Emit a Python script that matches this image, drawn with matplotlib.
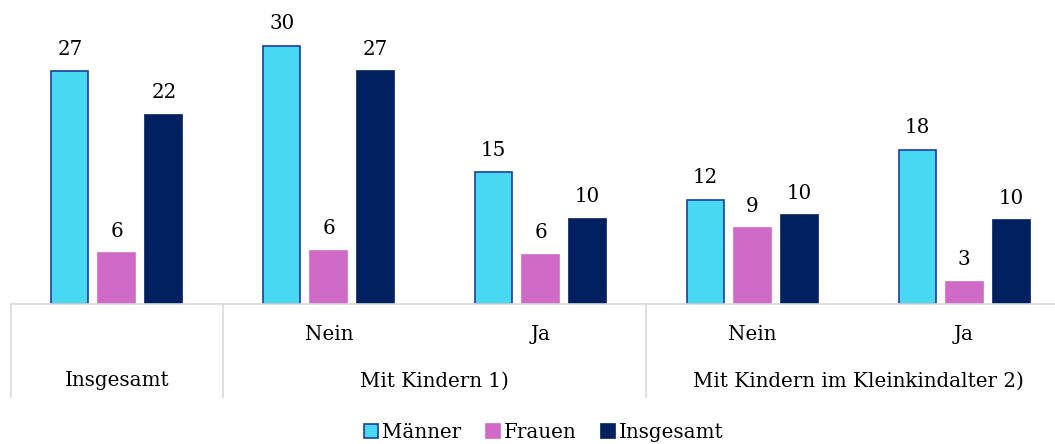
import numpy as np
import matplotlib.pyplot as plt
import matplotlib.transforms as mtransforms

plt.rcParams['font.family'] = ['DejaVu Serif']

sub_labels = ['', 'Nein', 'Ja', 'Nein', 'Ja']
main_labels = ['Insgesamt', 'Mit Kindern 1)', 'Mit Kindern im Kleinkindalter 2)']
series = ['Männer', 'Frauen', 'Insgesamt']
maenner = [27.0, 30.0, 15.3, 12.1, 17.9]
frauen = [5.9, 6.2, 5.7, 8.8, 2.6]
insgesamt = [22.0, 27.0, 9.9, 10.3, 9.7]

colors = ['#48D8F2', '#CF6BC7', '#00205F']
edges = ['#1B3E9E', '#CF6BC7', '#00205F']
fs = 14.3

fig = plt.figure(figsize=(10.55, 4.44), dpi=100)
ax = fig.add_axes([11 / 1055, 140 / 444, 1059 / 1055, 304 / 444])

x = np.arange(len(sub_labels))
offs = [-0.222, 0.0, 0.222]
for vals, name, c, ec, o in zip([maenner, frauen, insgesamt], series, colors, edges, offs):
    bars = ax.bar(x + o, vals, width=0.174, color=c, edgecolor=ec, linewidth=1.2, label=name)
    for b, v in zip(bars, vals):
        ax.annotate(f'{v:.0f}', (b.get_x() + b.get_width() / 2, v), xytext=(0, 9),
                    textcoords='offset points', ha='center', va='bottom', fontsize=fs)

ax.set_xlim(-0.5, 4.5)
ax.set_ylim(0, 35.3)
ax.set_yticks([])
ax.set_xticks([])
for s in ['top', 'right', 'left', 'bottom']:
    ax.spines[s].set_visible(False)

trans = mtransforms.blended_transform_factory(ax.transData, ax.transAxes)
grey = '#D9D9D9'
ax.plot([-0.5, 4.5], [0, 0], color=grey, lw=1.2, transform=trans, clip_on=False)
for xv in [-0.5, 0.5, 2.5]:
    ax.plot([xv, xv], [0, -0.306], color=grey, lw=1.2, transform=trans, clip_on=False)

for xi, lab in zip(x, sub_labels):
    ax.text(xi, -0.099, lab, transform=trans, ha='center', va='center', fontsize=fs)
for xi, lab in zip([0, 1.5, 3.5], main_labels):
    ax.text(xi, -0.253, lab, transform=trans, ha='center', va='center', fontsize=fs)

fig.legend(loc='center', bbox_to_anchor=(544 / 1055, 12 / 444), ncol=3, frameon=False,
           fontsize=fs, handlelength=0.7, handleheight=0.7, handletextpad=0.2,
           columnspacing=1.25, borderpad=0)

fig.savefig('out.png', dpi=100)
